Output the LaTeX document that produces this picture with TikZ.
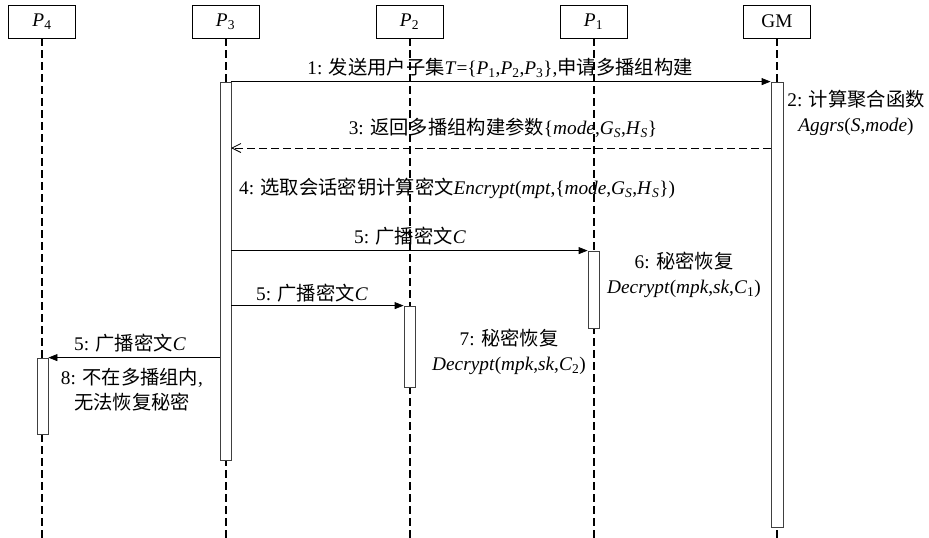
\documentclass[tikz,border=0pt]{standalone}
\usepackage{fontspec}
\setmainfont{Liberation Serif}
\newfontfamily\cjk{Noto Sans CJK SC}
\usetikzlibrary{arrows.meta}
\newcommand\zh[1]{{\cjk #1}}
\newcommand\mi[1]{\textit{#1}}
\newcommand\sbs[1]{\textsubscript{#1}}
\tikzset{
  hdr/.style={draw, line width=0.8pt, minimum width=67pt, minimum height=33pt, inner sep=0pt, font=\fontsize{19.3}{23}\selectfont},
  life/.style={line width=2pt, dash pattern=on 8pt off 4pt},
  actbox/.style={draw=black!75, fill=white, line width=0.8pt, minimum width=11pt, inner sep=0pt},
  msg/.style={line width=0.8pt, -{Triangle[length=9pt,width=7pt]}},
  reply/.style={line width=0.8pt, dash pattern=on 8pt off 4pt, -{Straight Barb[length=9pt,width=9pt]}},
  lbl/.style={inner sep=0pt, font=\fontsize{19.3}{25}\selectfont, align=center},
}
\begin{document}
\begin{tikzpicture}[x=1pt,y=-1pt]
\useasboundingbox (0,0) rectangle (929,538);
% headers
\node[hdr] (h4) at (42,21.5) {\mi{P}\sbs{4}};
\node[hdr] (h3) at (225.5,21.5) {\mi{P}\sbs{3}};
\node[hdr] (h2) at (409.5,21.5) {\mi{P}\sbs{2}};
\node[hdr] (h1) at (593.5,21.5) {\mi{P}\sbs{1}};
\node[hdr] (hG) at (777,21.5) {GM};
% lifeline ends
\coordinate (e4) at (42,538);
\coordinate (e3) at (225.5,538);
\coordinate (e2) at (409.5,538);
\coordinate (e1) at (593.5,538);
\coordinate (eG) at (777,538);
\draw[life] (h4.south) -- (e4);
\draw[life] (h3.south) -- (e3);
\draw[life] (h2.south) -- (e2);
\draw[life] (h1.south) -- (e1);
\draw[life] (hG.south) -- (eG);
% activation boxes
\node[actbox, minimum height=378pt] (a3) at (225.5,271) {};
\node[actbox, minimum width=12pt, minimum height=445pt] (aG) at (777,304.5) {};
\node[actbox, minimum height=77pt] (a1) at (593.5,289.5) {};
\node[actbox, minimum height=81pt] (a2) at (409.5,346.5) {};
\node[actbox, minimum height=76pt] (a4) at (42.5,396) {};
% messages
\draw[msg] (a3.north east) -- (aG.north west);
\coordinate (r3s) at (771,148);
\coordinate (r3e) at (231,148);
\draw[reply] (r3s) -- (r3e);
\draw[msg] (a3.east |- a1.north) -- (a1.north west);
\draw[msg] (a3.east |- a2.north) -- (a2.north west);
\draw[msg] (a3.west |- a4.north) -- (a4.north east);
% labels
\node[lbl] (t1) at (500,68) {1: \zh{发送用户子集}\mi{T}=\{\mi{P}\sbs{1},\mi{P}\sbs{2},\mi{P}\sbs{3}\},\zh{申请多播组构建}};
\node[lbl] (t2) at (856,113) {2: \zh{计算聚合函数}\\\mi{Aggrs}(\mi{S},\mi{mode})};
\node[lbl] (t3) at (503,128) {3: \zh{返回多播组构建参数}\{\mi{mode},\mi{G}\sbs{\mi{S}},\mi{H}\sbs{\mi{S}}\}};
\node[lbl, anchor=west] (t4) at (239,188) {4: \zh{选取会话密钥计算密文}\mi{Encrypt}(\mi{mpt},\{\mi{mode},\mi{G}\sbs{\mi{S}},\mi{H}\sbs{\mi{S}}\})};
\node[lbl] (t5a) at (410,236) {5: \zh{广播密文}\mi{C}};
\node[lbl] (t5b) at (312,293) {5: \zh{广播密文}\mi{C}};
\node[lbl] (t5c) at (130,343) {5: \zh{广播密文}\mi{C}};
\node[lbl] (t6) at (684,275) {6: \zh{秘密恢复}\\\mi{Decrypt}(\mi{mpk},\mi{sk},\mi{C}\sbs{1})};
\node[lbl] (t7) at (509,352) {7: \zh{秘密恢复}\\\mi{Decrypt}(\mi{mpk},\mi{sk},\mi{C}\sbs{2})};
\node[lbl] (t8) at (132,390) {8: \zh{不在多播组内},\\\zh{无法恢复秘密}};
\end{tikzpicture}
\end{document}
